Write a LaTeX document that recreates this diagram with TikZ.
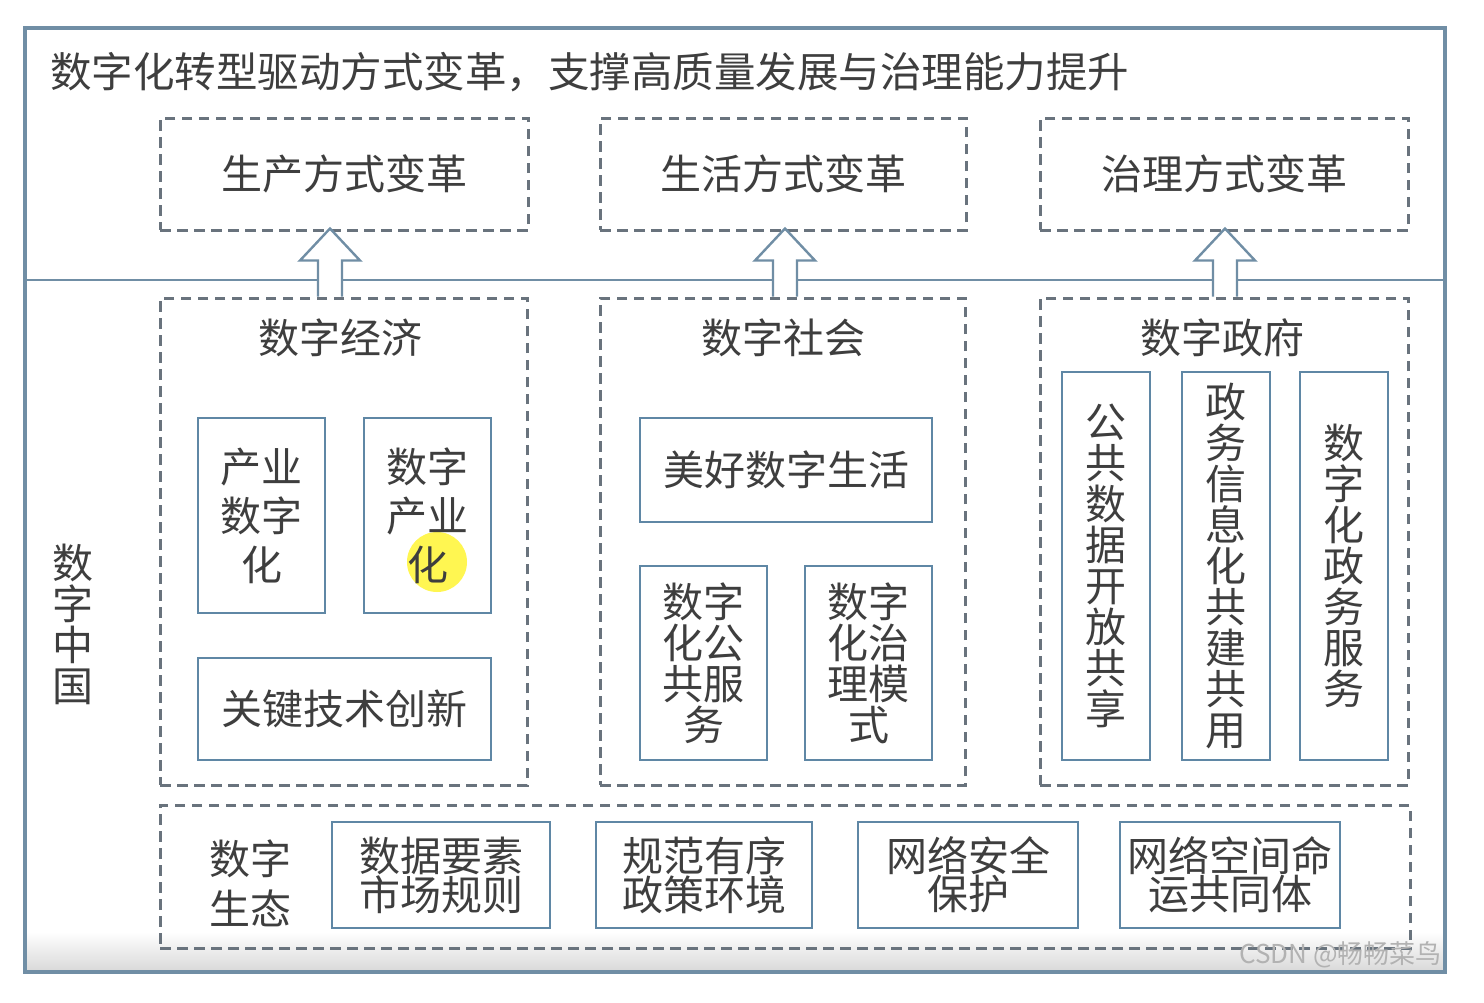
\documentclass[tikz,border=0pt]{standalone}
\usepackage{fontspec}
\setmainfont{Noto Sans CJK SC}
\usetikzlibrary{calc}
\definecolor{framec}{RGB}{112,142,165}
\definecolor{boxc}{RGB}{95,135,165}
\definecolor{dashc}{RGB}{105,115,125}
\definecolor{txtc}{RGB}{62,62,62}
\begin{document}
\begin{tikzpicture}[x=1pt,y=-1pt,
  every node/.style={text=txtc, font=\fontsize{41}{49}\selectfont, inner sep=0pt, align=center},
  dbox/.style={draw=dashc, line width=3pt, dash pattern=on 10.5pt off 6.5pt},
  sbox/.style={draw=boxc, line width=2.7pt},
  tight/.style={font=\fontsize{41}{41}\selectfont},
  tighter/.style={font=\fontsize{41}{38}\selectfont},
  barrow/.style={draw=framec, line width=2.4pt, fill=white, line join=miter}]
\fill[white] (0,0) rectangle (1484,1002);
\useasboundingbox (0,0) rectangle (1484,1002);
% bottom shadow
\shade[top color=white, bottom color=black!15] (27,932) rectangle (1443,971);
% outer frame
\node[draw=framec, line width=3.2pt, minimum width=1420, minimum height=944] (frame) at (735,500) {};
\coordinate (dl) at (25,280);
\coordinate (dr) at (1445,280);
\draw[framec, line width=2.8pt] (dl) -- (dr);
% title
\node[anchor=west, font=\fontsize{41.5}{48}\selectfont] (title) at (50,72) {数字化转型驱动方式变革，支撑高质量发展与治理能力提升};
% top dashed boxes
\node[dbox, minimum width=368, minimum height=112] (p1) at (344,174) {生产方式变革};
\node[dbox, minimum width=366, minimum height=112] (p2) at (783,174) {生活方式变革};
\node[dbox, minimum width=368, minimum height=112] (p3) at (1224,174) {治理方式变革};
% lower dashed groups
\node[dbox, minimum width=367, minimum height=487] (econ) at (343.5,541.5) {};
\node[dbox, minimum width=365, minimum height=487] (soc) at (782.5,541.5) {};
\node[dbox, minimum width=368, minimum height=487] (gov) at (1224,541.5) {};
\node (econt) at (340,338) {数字经济};
\node (soct) at (783,338) {数字社会};
\node (govt) at (1222,338) {数字政府};
% block arrows
\coordinate (a1) at ($(econ.north)+(-13.5,0)$);
\coordinate (a2) at ($(soc.north)+(2.5,0)$);
\coordinate (a3) at ($(gov.north)+(1,0)$);
\foreach \a in {a1,a2,a3}{
  \draw[barrow] (\a) ++(-12,0) -- ++(0,-36) -- ++(-18,0) -- ++(30,-32) -- ++(30,32) -- ++(-18,0) -- ++(0,36);
}
% 数字经济 contents
\fill[yellow!80!white, opacity=.85] (437,562) circle (30);
\node[sbox, minimum width=127, minimum height=195] (cyszh) at (261.5,515.5) {产业\\数字\\化};
\node[sbox, minimum width=127, minimum height=195] (szcyh) at (427.5,515.5) {数字\\产业\\化};
\node[sbox, minimum width=293, minimum height=102] (gjjs) at (344.5,709) {关键技术创新};
% 数字社会 contents
\node[sbox, minimum width=292, minimum height=104] (mhsz) at (786,470) {美好数字生活};
\node[sbox, tight, minimum width=127, minimum height=194] (szhgg) at (703.5,663) {数字\\化公\\共服\\务};
\node[sbox, tight, minimum width=127, minimum height=194] (szhzl) at (868.5,663) {数字\\化治\\理模\\式};
% 数字政府 contents
\node[sbox, tight, minimum width=88, minimum height=388] (ggsj) at (1106,566) {公\\共\\数\\据\\开\\放\\共\\享};
\node[sbox, tight, minimum width=88, minimum height=388] (zwxx) at (1226,566) {政\\务\\信\\息\\化\\共\\建\\共\\用};
\node[sbox, tight, minimum width=88, minimum height=388] (szhzw) at (1344,566) {数\\字\\化\\政\\务\\服\\务};
% 数字中国
\node[tight] (szzg) at (73,624) {数\\字\\中\\国};
% 数字生态
\node[dbox, minimum width=1250, minimum height=143] (eco) at (785,876.5) {};
\node[font=\fontsize{41}{50}\selectfont] (ecot) at (250,883) {数字\\生态};
\node[sbox, tighter, minimum width=218, minimum height=106] (b1) at (441,875) {数据要素\\市场规则};
\node[sbox, tighter, minimum width=216, minimum height=106] (b2) at (704,875) {规范有序\\政策环境};
\node[sbox, tighter, minimum width=220, minimum height=106] (b3) at (968,875) {网络安全\\保护};
\node[sbox, tighter, minimum width=220, minimum height=106] (b4) at (1230,875) {网络空间命\\运共同体};
% watermark
\node[text=gray!60, font=\fontsize{26}{26}\selectfont, anchor=east] (wm) at (1442,955) {CSDN @畅畅菜鸟};
\end{tikzpicture}
\end{document}
